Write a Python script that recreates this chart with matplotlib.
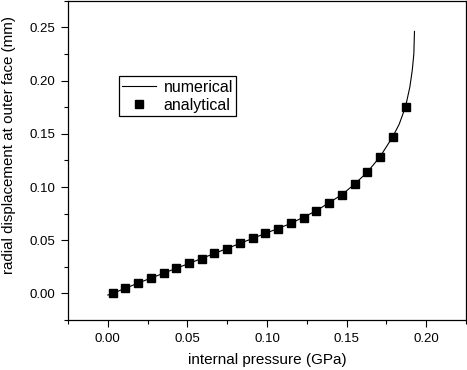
import numpy as np
import matplotlib.pyplot as plt
from matplotlib.ticker import MultipleLocator, FormatStrFormatter

plt.rcParams['font.family'] = ['Liberation Sans', 'DejaVu Sans']

# analytical points
p_ana = [0.003, 0.011, 0.019, 0.027, 0.035, 0.043, 0.051, 0.059, 0.067, 0.075,
         0.083, 0.091, 0.099, 0.107, 0.115, 0.123, 0.131, 0.139, 0.147, 0.155,
         0.163, 0.171, 0.179, 0.187]
u_ana = [0.000, 0.005, 0.0097, 0.0144, 0.019, 0.0235, 0.0282, 0.0326, 0.0376, 0.042,
         0.047, 0.0517, 0.0564, 0.0608, 0.0658, 0.0711, 0.0777, 0.0849, 0.0928, 0.1027,
         0.114, 0.1285, 0.1473, 0.1755]

# numerical curve
p_num = [0.0, 0.003, 0.019, 0.035, 0.051, 0.067, 0.083, 0.099, 0.115, 0.131,
         0.147, 0.155, 0.163, 0.171, 0.179, 0.183, 0.187, 0.1897, 0.1912, 0.1922, 0.1926]
u_num = [-0.0015, 0.000, 0.0097, 0.019, 0.0282, 0.0376, 0.047, 0.0564, 0.0658, 0.0777,
         0.0928, 0.1027, 0.114, 0.1285, 0.1473, 0.159, 0.1755, 0.194, 0.2096, 0.225, 0.2462]

fig = plt.figure(figsize=(4.67, 3.70), dpi=100)
ax = fig.add_axes([0.1456, 0.135, 0.8524, 0.863])

ax.plot(p_num, u_num, color='black', linewidth=0.8, label='numerical')
ax.plot(p_ana, u_ana, linestyle='none', marker='s', markersize=5.8,
        color='black', label='analytical')

ax.set_xlim(-0.025, 0.225)
ax.set_ylim(-0.025, 0.275)
ax.xaxis.set_major_locator(MultipleLocator(0.05))
ax.xaxis.set_minor_locator(MultipleLocator(0.025))
ax.yaxis.set_major_locator(MultipleLocator(0.05))
ax.yaxis.set_minor_locator(MultipleLocator(0.025))
ax.xaxis.set_major_formatter(FormatStrFormatter('%.2f'))
ax.yaxis.set_major_formatter(FormatStrFormatter('%.2f'))

ax.tick_params(which='both', direction='out', top=False, right=False,
               width=0.8, labelsize=9.5, pad=4)
ax.tick_params(which='major', length=5)
ax.tick_params(which='minor', length=3)
for s in ax.spines.values():
    s.set_linewidth(0.9)

ax.set_xlabel('internal pressure (GPa)', fontsize=11, labelpad=6)
ax.set_ylabel('radial displacement at outer face (mm)', fontsize=10.9)
ax.yaxis.set_label_coords(-0.131, 0.547)

leg = ax.legend(loc='upper left', bbox_to_anchor=(0.128, 0.763), borderaxespad=0,
                fancybox=False, framealpha=1, edgecolor='black', fontsize=11.5,
                handlelength=2.1, handletextpad=0.5, borderpad=0.2, labelspacing=0.2,
                numpoints=1)
leg.get_frame().set_linewidth(0.9)

fig.savefig('out.png', dpi=100)
